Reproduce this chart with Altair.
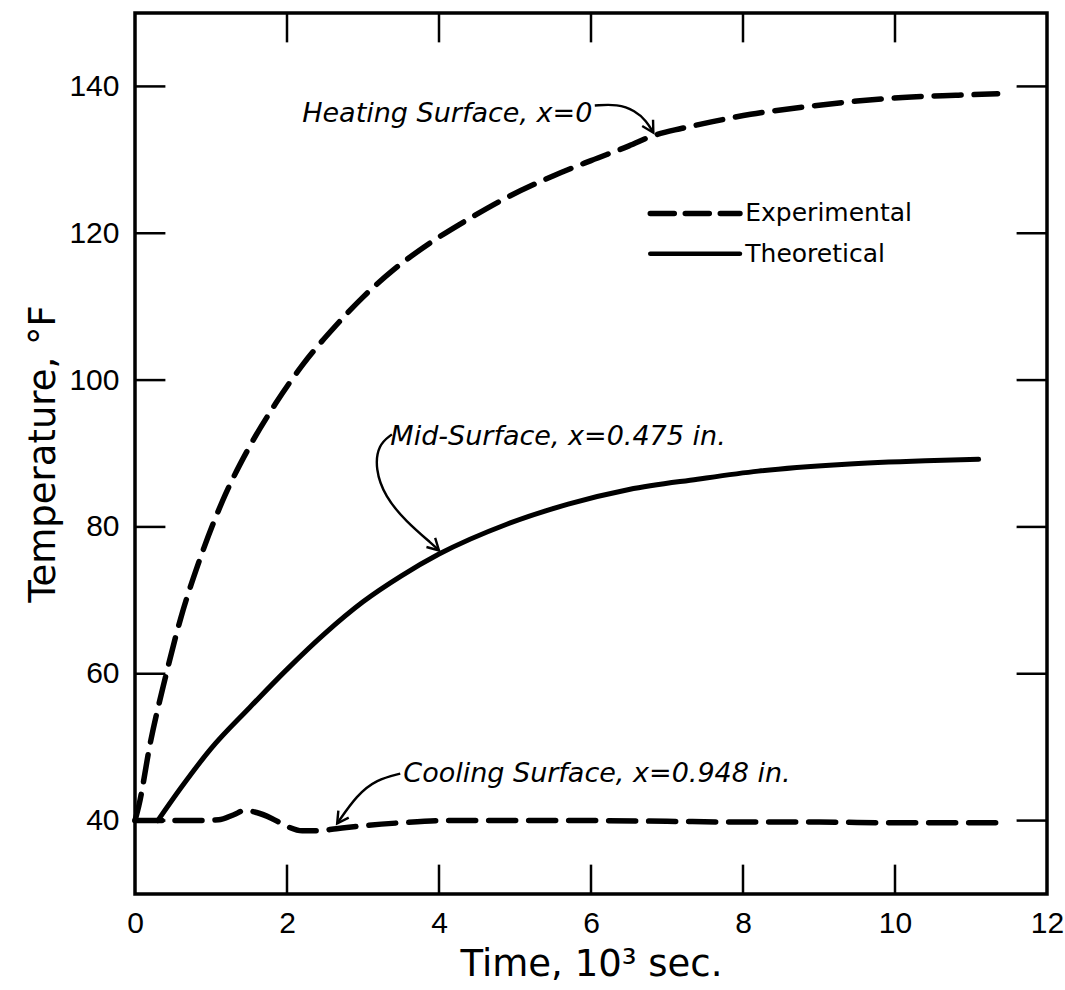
import altair as alt
import pandas as pd

# ---- data ----
heat_x = [0, 0.05, 0.2, 0.4, 0.6, 0.85, 1.15, 1.5, 1.85, 2.2, 2.65, 3.0, 3.4, 3.9, 4.4, 4.9, 5.5, 6.0, 6.5, 6.82, 7.2, 7.6, 8.1, 8.8, 9.5, 10.1, 10.8, 11.35]
heat_t = [40, 42, 50.5, 59.5, 67.5, 75.5, 83.5, 90.8, 96.8, 102, 107.5, 111.3, 115, 118.8, 122, 124.9, 127.8, 129.9, 131.9, 133.3, 134.3, 135.2, 136.2, 137.2, 138, 138.5, 138.8, 139]

mid_x = [0.3, 0.6, 1.0, 1.5, 2.0, 2.5, 3.0, 3.5, 4.0, 4.9, 5.7, 6.5, 7.4, 8.2, 9.3, 10.4, 11.1]
mid_t = [40, 44.4, 49.8, 55.3, 60.6, 65.5, 69.8, 73.3, 76.3, 80.4, 83.1, 85.1, 86.5, 87.6, 88.5, 89.0, 89.2]

cool_x = [0, 0.8, 1.1, 1.3, 1.45, 1.6, 1.8, 2.0, 2.2, 2.4, 2.65, 3.0, 3.5, 4.1, 5, 6, 7, 8, 9, 10, 11.35]
cool_t = [40, 40, 40.1, 40.8, 41.4, 41.1, 40.3, 39.2, 38.6, 38.6, 38.9, 39.3, 39.7, 40, 40, 40, 39.9, 39.8, 39.8, 39.7, 39.7]

x_ticks = [0, 2, 4, 6, 8, 10, 12]
y_ticks = [40, 60, 80, 100, 120, 140]

legend_labels = ["Experimental", "Theoretical"]
legend_t = [122.7, 117.2]
legend_x = [6.78, 7.96]

ann_labels = ["Heating Surface, x=0", "Mid-Surface, x=0.475 in.", "Cooling Surface, x=0.948 in."]
ann_x = [2.2, 3.36, 3.53]
ann_t = [136.3, 92.3, 46.4]

arrow_heat_x = [6.05, 6.35, 6.58, 6.73, 6.82]
arrow_heat_t = [137.4, 137.6, 136.7, 135.3, 133.7]
arrow_mid_x = [3.38, 3.2, 3.16, 3.29, 3.56, 3.93, 4.0]
arrow_mid_t = [92.6, 91.2, 87.9, 84.1, 80.8, 77.5, 76.8]
arrow_cool_x = [3.49, 3.18, 2.92, 2.66]
arrow_cool_t = [46.4, 45.6, 43.5, 39.6]

XD = [0, 12]
YD = [30, 150]

xs = alt.Scale(domain=XD, nice=False, zero=False)
ys = alt.Scale(domain=YD, nice=False, zero=False)

FONT = "Liberation Sans"
TFONT = "DejaVu Sans"

heat = pd.DataFrame({"x": heat_x, "t": heat_t})
mid = pd.DataFrame({"x": mid_x, "t": mid_t})
cool = pd.DataFrame({"x": cool_x, "t": cool_t})

X = alt.X("x:Q", scale=xs, axis=alt.Axis(
    values=x_ticks, format="d", title="Time, 10³ sec.", tickSize=0, domain=False, grid=False,
    labelFontSize=30, labelFont=FONT, labelPadding=14, labelFlush=False,
    titleFontSize=37, titleFont=TFONT, titleFontWeight="normal", titlePadding=8,
    labelColor="black", titleColor="black"))
Y = alt.Y("t:Q", scale=ys, axis=alt.Axis(
    values=y_ticks, format="d", title="Temperature, °F", tickSize=0, domain=False, grid=False,
    labelFontSize=30, labelFont=FONT, labelPadding=16,
    titleFontSize=37, titleFont=TFONT, titleFontWeight="normal", titlePadding=6,
    labelColor="black", titleColor="black"))

dash = [27, 13]
heat_line = alt.Chart(heat).mark_line(color="black", strokeWidth=5.5, strokeDash=dash,
                                      strokeCap="round", interpolate="monotone").encode(x=X, y=Y)
cool_line = alt.Chart(cool).mark_line(color="black", strokeWidth=5.5, strokeDash=dash,
                                      strokeCap="round", interpolate="monotone").encode(x=X, y=Y)
mid_line = alt.Chart(mid).mark_line(color="black", strokeWidth=5,
                                    strokeCap="round", interpolate="monotone").encode(x=X, y=Y)

# inward tick marks on all four sides
tick_rows = []
for v in x_ticks[1:-1]:
    tick_rows.append({"x": v, "x2": v, "t": YD[0], "t2": YD[0] + 4})
    tick_rows.append({"x": v, "x2": v, "t": YD[1], "t2": YD[1] - 4})
for v in y_ticks:
    tick_rows.append({"x": XD[0], "x2": XD[0] + 0.4, "t": v, "t2": v})
    tick_rows.append({"x": XD[1], "x2": XD[1] - 0.4, "t": v, "t2": v})
ticks = alt.Chart(pd.DataFrame(tick_rows)).mark_rule(color="black", strokeWidth=2.5).encode(
    x=alt.X("x:Q", scale=xs), x2="x2:Q", y=alt.Y("t:Q", scale=ys), y2="t2:Q")

# legend
leg_dash = alt.Chart(pd.DataFrame({"x": legend_x, "t": [legend_t[0]] * 2})).mark_line(
    color="black", strokeWidth=5.5, strokeDash=[24, 11], strokeCap="round").encode(
    x=alt.X("x:Q", scale=xs), y=alt.Y("t:Q", scale=ys))
leg_solid = alt.Chart(pd.DataFrame({"x": legend_x, "t": [legend_t[1]] * 2})).mark_line(
    color="black", strokeWidth=4.5, strokeCap="round").encode(
    x=alt.X("x:Q", scale=xs), y=alt.Y("t:Q", scale=ys))
leg_text = alt.Chart(pd.DataFrame({"x": [legend_x[1] + 0.07] * 2, "t": legend_t, "lab": legend_labels})).mark_text(
    align="left", baseline="middle", fontSize=25, font=TFONT, color="black").encode(
    x=alt.X("x:Q", scale=xs), y=alt.Y("t:Q", scale=ys), text="lab:N")

# annotations
ann_text = alt.Chart(pd.DataFrame({"x": ann_x, "t": ann_t, "lab": ann_labels})).mark_text(
    align="left", baseline="middle", fontSize=27, font=TFONT, fontStyle="italic", color="black").encode(
    x=alt.X("x:Q", scale=xs), y=alt.Y("t:Q", scale=ys), text="lab:N")

arr = pd.concat([
    pd.DataFrame({"x": arrow_heat_x, "t": arrow_heat_t, "g": "h", "o": range(len(arrow_heat_x))}),
    pd.DataFrame({"x": arrow_mid_x, "t": arrow_mid_t, "g": "m", "o": range(len(arrow_mid_x))}),
    pd.DataFrame({"x": arrow_cool_x, "t": arrow_cool_t, "g": "c", "o": range(len(arrow_cool_x))}),
])
arrow_lines = alt.Chart(arr).mark_line(color="black", strokeWidth=2.4, interpolate="basis").encode(
    x=alt.X("x:Q", scale=xs), y=alt.Y("t:Q", scale=ys), detail="g:N", order="o:Q")

heads = pd.DataFrame({"x": [arrow_heat_x[-1], arrow_mid_x[-1], arrow_cool_x[-1]],
                      "t": [arrow_heat_t[-1], arrow_mid_t[-1], arrow_cool_t[-1]],
                      "a": [330, 314, 34]})
arrow_heads = alt.Chart(heads).mark_point(
    shape="M -0.55 -1 L 0 0 L 0.55 -1", filled=False, color="black", strokeWidth=2.4,
    size=520, opacity=1).encode(
    x=alt.X("x:Q", scale=xs), y=alt.Y("t:Q", scale=ys), angle=alt.Angle("a:Q", scale=None))

chart = alt.layer(
    ticks, heat_line, cool_line, mid_line, leg_dash, leg_solid, leg_text,
    ann_text, arrow_lines, arrow_heads
).properties(
    width=912, height=881,
    autosize=alt.AutoSizeParams(type="none"),
    padding={"left": 135, "top": 13, "right": 18, "bottom": 96},
    background="white",
).configure_view(stroke="black", strokeWidth=3.5)

chart.save("out.html", embed_options={"renderer": "svg", "actions": False})
